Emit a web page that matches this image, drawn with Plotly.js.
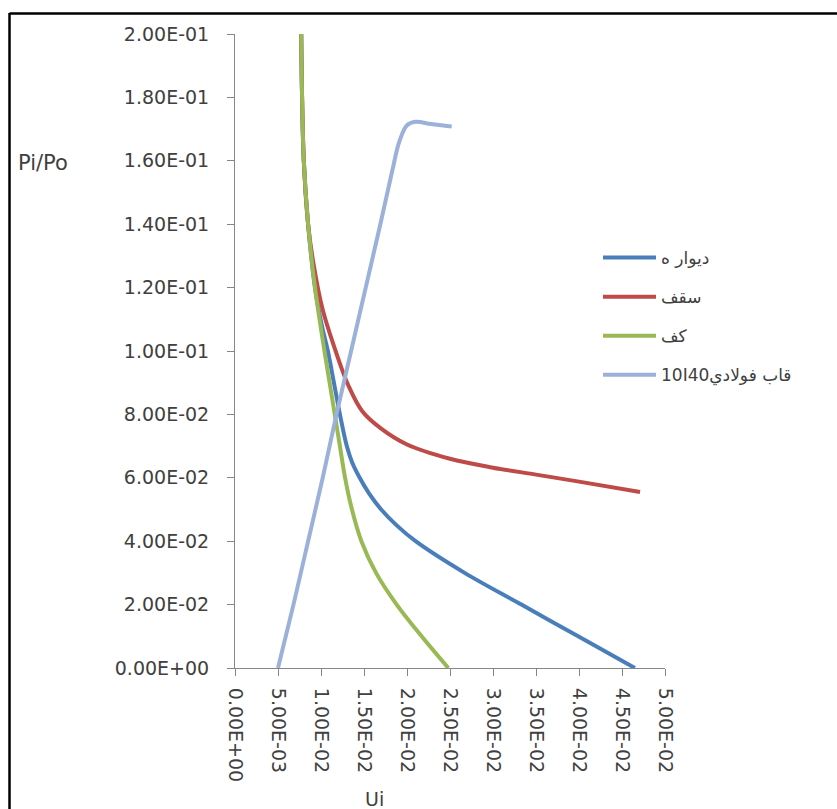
<!DOCTYPE html>
<html>
<head>
<meta charset="utf-8">
<script src="https://cdn.plot.ly/plotly-3.0.1.min.js"></script>
<style>
html,body{margin:0;padding:0;background:#fff;}
#chart{width:837px;height:809px;}
</style>
</head>
<body>
<div id="chart"></div>
<script>
// ---- data ----
const seriesNames = ["ديوار ه", "سقف", "كف", "\u202Bقاب فولادي10I40\u202C"];

// ديوار ه (wall)
const wallX = [0.0077, 0.0078, 0.0080, 0.0085, 0.0093, 0.0101, 0.0108, 0.0115, 0.0122, 0.0130, 0.0136, 0.0145, 0.0156, 0.0170, 0.0188, 0.0210, 0.0267, 0.0333, 0.0399, 0.0465];
const wallY = [0.200, 0.180, 0.160, 0.140, 0.120, 0.108, 0.100, 0.090, 0.080, 0.070, 0.065, 0.060, 0.055, 0.050, 0.045, 0.040, 0.030, 0.020, 0.010, 0.000];

// سقف (roof)
const roofX = [0.0077, 0.0078, 0.0080, 0.0085, 0.0091, 0.0102, 0.0117, 0.0132, 0.0148, 0.0170, 0.0200, 0.0250, 0.0300, 0.0350, 0.0400, 0.0471];
const roofY = [0.200, 0.180, 0.160, 0.140, 0.128, 0.113, 0.100, 0.089, 0.081, 0.0755, 0.0705, 0.0660, 0.0632, 0.0610, 0.0588, 0.0555];

// كف (floor)
const floorX = [0.0077, 0.0078, 0.0080, 0.0085, 0.0093, 0.0104, 0.0110, 0.0116, 0.0122, 0.0128, 0.0136, 0.0147, 0.0164, 0.0188, 0.0217, 0.0248];
const floorY = [0.200, 0.180, 0.160, 0.140, 0.120, 0.100, 0.090, 0.080, 0.070, 0.060, 0.050, 0.040, 0.030, 0.020, 0.010, 0.000];

// قاب فولادي 10I40 (steel frame)
const frameX = [0.0050, 0.0068, 0.0085, 0.0102, 0.0118, 0.0135, 0.0152, 0.0169, 0.0183, 0.0191, 0.0200, 0.0210, 0.0228, 0.0252];
const frameY = [0.000, 0.020, 0.040, 0.060, 0.080, 0.100, 0.120, 0.140, 0.157, 0.166, 0.1712, 0.1723, 0.1716, 0.1708];

// tick labels
const xTickVals = [0, 0.005, 0.01, 0.015, 0.02, 0.025, 0.03, 0.035, 0.04, 0.045, 0.05];
const xTickText = ["0.00E+00","5.00E-03","1.00E-02","1.50E-02","2.00E-02","2.50E-02","3.00E-02","3.50E-02","4.00E-02","4.50E-02","5.00E-02"];
const yTickVals = [0, 0.02, 0.04, 0.06, 0.08, 0.10, 0.12, 0.14, 0.16, 0.18, 0.20];
const yTickText = ["0.00E+00","2.00E-02","4.00E-02","6.00E-02","8.00E-02","1.00E-01","1.20E-01","1.40E-01","1.60E-01","1.80E-01","2.00E-01"];

const colors = ["#4A7EBB", "#BE4B48", "#98B954", "#9BB1DA"];
const FONT = "DejaVu Sans, Noto Sans, sans-serif";

const xs = [wallX, roofX, floorX, frameX];
const ys = [wallY, roofY, floorY, frameY];
const traces = xs.map((x, i) => ({
  x: x, y: ys[i], type: "scatter", mode: "lines",
  name: seriesNames[i], legendgroup: "g" + i,
  line: {color: colors[i], width: 4, shape: "spline", smoothing: 1}
}));

const W = 837, H = 809, L = 235, R = 665, T = 34, B = 668;
const px2x = p => (p - L) / (R - L);
const py2y = p => (B - p) / (B - T);

const layout = {
  width: W, height: H,
  margin: {l: L, r: W - R, t: T, b: H - B, pad: 0},
  paper_bgcolor: "#ffffff", plot_bgcolor: "#ffffff",
  font: {family: FONT, color: "#404040"},
  showlegend: true,
  legend: {
    x: px2x(598), y: py2y(240), xanchor: "left", yanchor: "top",
    font: {family: FONT, size: 17, color: "#404040"},
    itemwidth: 53,
    tracegroupgap: 14, bgcolor: "rgba(0,0,0,0)", borderwidth: 0
  },
  xaxis: {
    range: [0, 0.05], tickvals: xTickVals, ticktext: xTickText,
    tickangle: 90, ticks: "outside", ticklen: 7, tickcolor: "#868686",
    ticklabelstandoff: 8,
    showline: true, linecolor: "#868686", linewidth: 1,
    showgrid: false, zeroline: false,
    tickfont: {family: FONT, size: 19, color: "#404040"}
  },
  yaxis: {
    range: [0, 0.2], tickvals: yTickVals, ticktext: yTickText,
    ticks: "outside", ticklen: 7, tickcolor: "#868686",
    ticklabelstandoff: 14,
    showline: true, linecolor: "#868686", linewidth: 1,
    showgrid: false, zeroline: false,
    tickfont: {family: FONT, size: 19, color: "#404040"}
  },
  annotations: [
    {text: "Pi/Po", xref: "paper", yref: "paper", x: px2x(16), y: py2y(163),
     xanchor: "left", yanchor: "middle", showarrow: false,
     font: {family: FONT, size: 21, color: "#404040"}},
    {text: "Ui", xref: "paper", yref: "paper", x: px2x(374), y: py2y(786),
     xanchor: "center", yanchor: "top", showarrow: false,
     font: {family: FONT, size: 19, color: "#404040"}}
  ],
  shapes: [
    {type: "line", xref: "paper", yref: "paper", x0: px2x(9.5), x1: px2x(9.5), y0: py2y(13), y1: py2y(830),
     line: {color: "#000000", width: 2.5}},
    {type: "line", xref: "paper", yref: "paper", x0: px2x(9.5), x1: px2x(860), y0: py2y(13.5), y1: py2y(13.5),
     line: {color: "#000000", width: 2.5}}
  ]
};

Plotly.newPlot("chart", traces, layout, {staticPlot: true, displayModeBar: false});
</script>
</body>
</html>
